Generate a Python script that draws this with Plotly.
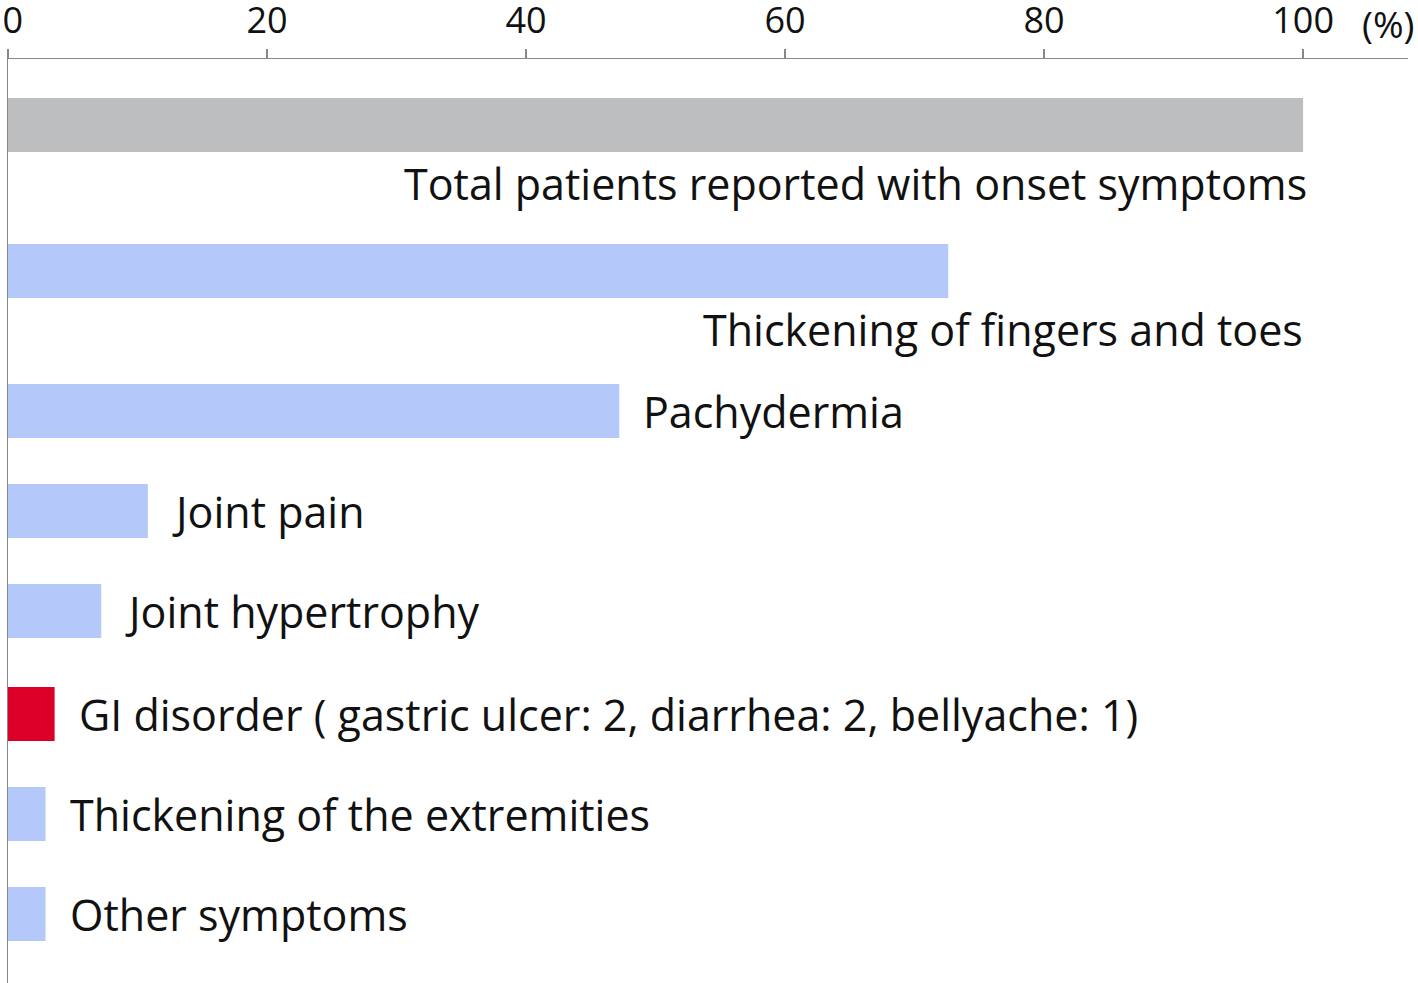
import plotly.graph_objects as go

categories = [
    "Total patients reported with onset symptoms",
    "Thickening of fingers and toes",
    "Pachydermia",
    "Joint pain",
    "Joint hypertrophy",
    "GI disorder ( gastric ulcer: 2, diarrhea: 2, bellyache: 1)",
    "Thickening of the extremities",
    "Other symptoms",
]
values = [100, 72.6, 47.2, 10.8, 7.2, 3.6, 2.9, 2.9]
tick_vals = [0, 20, 40, 60, 80, 100]
tick_text = ["\u00a00", "20", "40", "60", "80", "100"]

# layout: slot positions (rows) and label placement
slots = [0.66, 2.12, 3.52, 4.52, 5.52, 6.55, 7.55, 8.55]
label_below = [True, True, False, False, False, False, False, False]
colors = ["#bcbec0", "#b4c9fa", "#b4c9fa", "#b4c9fa", "#b4c9fa", "#dc0028", "#b4c9fa", "#b4c9fa"]

FONT = "Open Sans"
LABEL_SIZE = 43
WEIGHT = 500

fig = go.Figure()
fig.add_trace(go.Bar(
    x=values, y=slots, orientation="h", width=0.54,
    marker=dict(color=colors, line=dict(width=0)),
    hoverinfo="skip",
))

annotations = []
for cat, v, s, below in zip(categories, values, slots, label_below):
    if below:
        annotations.append(dict(x=100, y=s + 0.58, xref="x", yref="y", text=cat,
                                showarrow=False, xanchor="right", yanchor="middle",
                                xshift=6 if v == 100 else 2,
                                font=dict(family=FONT, size=LABEL_SIZE, color="#111", weight=WEIGHT)))
    else:
        annotations.append(dict(x=v, y=s, xref="x", yref="y", text=cat,
                                showarrow=False, xanchor="left", yanchor="middle",
                                xshift=22,
                                font=dict(family=FONT, size=LABEL_SIZE, color="#111", weight=WEIGHT)))
annotations.append(dict(x=1.0, y=1.0, xref="paper", yref="paper", text="(%)",
                        showarrow=False, xanchor="right", yanchor="bottom",
                        xshift=8, yshift=8,
                        font=dict(family=FONT, size=37, color="#111", weight=WEIGHT)))

fig.update_layout(
    width=1418, height=983,
    margin=dict(l=8, r=10, t=59, b=0, autoexpand=False),
    paper_bgcolor="white", plot_bgcolor="white",
    showlegend=False,
    annotations=annotations,
    xaxis=dict(side="top", range=[0, 108.1], tickvals=tick_vals, ticktext=tick_text,
               ticks="outside", ticklen=9, tickcolor="#888", tickwidth=1.5,
               showline=True, linecolor="#888", linewidth=1.5,
               showgrid=False, zeroline=False, automargin=False,
               ticklabeloverflow="allow", ticklabelstandoff=1,
               tickfont=dict(family=FONT, size=36, color="#111", weight=WEIGHT)),
    yaxis=dict(range=[9.24, 0], showticklabels=False, ticks="",
               showline=True, linecolor="#888", linewidth=1.5,
               showgrid=False, zeroline=False, automargin=False),
)

fig.write_html(
    "out.html",
    config={"displayModeBar": False, "staticPlot": True},
    post_script="document.body.style.margin='0';document.body.style.overflow='hidden';",
)
